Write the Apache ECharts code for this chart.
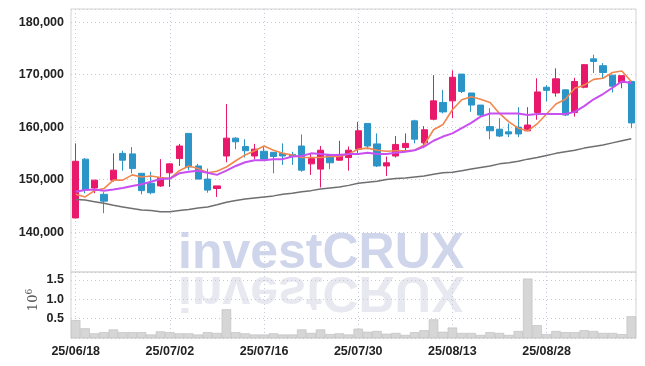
<!DOCTYPE html>
<html>
<head>
<meta charset="utf-8">
<script src="https://cdn.jsdelivr.net/npm/echarts@6/dist/echarts.min.js"></script>
<style>html,body{margin:0;padding:0;background:#fff}#c{width:645px;height:366px}</style>
</head>
<body>
<div id="c"></div>
<script>
const dates = ['25/06/18','25/06/19','25/06/20','25/06/23','25/06/24','25/06/25','25/06/26','25/06/27','25/06/30',
'25/07/01','25/07/02','25/07/03','25/07/04','25/07/07','25/07/08','25/07/09','25/07/10','25/07/11','25/07/14','25/07/15','25/07/16','25/07/17','25/07/18','25/07/21','25/07/22','25/07/23','25/07/24','25/07/25','25/07/28','25/07/29','25/07/30','25/07/31',
'25/08/01','25/08/04','25/08/05','25/08/06','25/08/07','25/08/08','25/08/11','25/08/12','25/08/13','25/08/14','25/08/18','25/08/19','25/08/20','25/08/21','25/08/22','25/08/25','25/08/26','25/08/27','25/08/28','25/08/29',
'25/09/01','25/09/02','25/09/03','25/09/04','25/09/05','25/09/08','25/09/09','25/09/10'];

const opens  = [142700,153900,148400,147200,149900,155000,154900,151200,149300,148800,151300,154000,158800,152600,150100,148300,154500,157900,156300,154500,155400,155200,155000,154800,156400,153000,152000,154800,153700,154200,155800,160700,156800,152600,154500,156100,161200,157000,161500,164700,165000,170100,166500,164200,160100,159600,159100,160000,159300,162800,167600,166500,167100,162800,167600,173000,171700,169900,168500,168700];
const closes = [153500,148000,149900,145900,151800,153700,152100,147900,147500,150400,153000,156400,152400,150100,148000,148800,157900,157200,155500,155800,153900,154400,154500,154400,151800,154000,155600,153200,154800,155600,159300,156400,152600,153200,156700,156900,157700,159500,165000,162900,169500,166800,164200,162300,159300,158300,158700,158700,160400,166700,167000,169200,162300,168700,171900,172500,170400,167800,169800,160800];
const lows   = [142600,147400,147400,143600,149600,151700,151200,147200,147200,148600,148600,152600,151800,150100,147500,146700,153300,155800,154200,153900,153900,151200,152800,152800,151500,150900,148500,152000,153600,151700,155100,155800,152400,150700,154200,155300,156900,156000,161300,162600,161700,166500,162900,162000,157700,158100,158100,158100,159300,161400,164900,165800,162100,162000,167400,170300,169300,166600,167400,159800];
const highs  = [156900,154100,149900,147600,155000,155500,156200,151200,151500,153900,153100,156800,158800,153000,152100,148800,164400,158100,157700,156800,156400,155200,156900,155300,158600,154900,156400,154800,157400,156300,161000,160700,158800,154400,158300,158800,161400,160200,169900,167100,170800,170100,166500,164200,163600,161700,160700,163800,163800,169300,168000,171200,167200,169400,172000,173800,172200,169900,169800,168700];

const ma5  = [147200,146700,147900,148300,149900,149900,150900,150500,150700,150400,150200,151700,152600,152100,151300,151600,152400,153600,154700,155500,156400,155600,155000,154700,154200,154200,154200,154400,154400,154900,155800,156000,155600,155400,155500,155500,155600,156600,159500,160500,163300,165200,165800,165300,164700,162600,161000,159800,159300,160600,162500,164400,165300,167400,168000,169100,169300,170400,170700,168700];
const ma20 = [147700,148000,148100,147900,148100,148400,148800,149100,149600,150100,150200,151200,151500,151700,151300,150900,151700,152600,153300,153700,153700,153900,153900,154400,154500,155000,154900,154700,154700,154900,154900,155100,154900,154900,155100,155300,155600,156300,157400,158200,158800,159800,160800,162000,162600,162600,162600,162600,162300,162500,162500,162500,162500,162900,164000,165300,166300,167500,168700,168400];
const ma60 = [146200,146100,145800,145500,145100,144800,144500,144200,144100,143900,143900,144100,144300,144600,144800,145200,145700,146000,146300,146500,146700,146900,147200,147400,147700,147900,148200,148400,148600,148900,149300,149500,149700,150000,150200,150300,150500,150700,151000,151300,151400,151700,152000,152300,152600,153000,153200,153500,153900,154200,154600,155000,155300,155600,156000,156300,156600,157000,157400,157800];

const volumes = [0.46,0.25,0.12,0.15,0.22,0.15,0.15,0.15,0.09,0.17,0.15,0.12,0.12,0.09,0.15,0.13,0.74,0.15,0.12,0.09,0.09,0.12,0.09,0.09,0.22,0.13,0.22,0.10,0.12,0.09,0.24,0.16,0.18,0.11,0.13,0.08,0.15,0.20,0.48,0.16,0.27,0.13,0.13,0.08,0.15,0.13,0.08,0.18,1.53,0.33,0.10,0.18,0.15,0.15,0.20,0.18,0.13,0.13,0.10,0.56];

const volumeUnit = '{a|10}{b|6}';

const candleData = opens.map((o, i) => [o, closes[i], lows[i], highs[i]]);

const LABEL_FONT = "'Liberation Sans', Arial, sans-serif";
const LABEL_SIZE = 12.5;
const gridLine = { show: true, lineStyle: { color: '#c5c9dc', type: [1, 3], width: 1 } };
const vSplit = { show: true, interval: 9, alignWithLabel: true, lineStyle: { color: '#c5c9dc', type: [1, 3], width: 1 } };

const chart = echarts.init(document.getElementById('c'), null, { renderer: 'canvas' });
chart.setOption({
  animation: false,
  backgroundColor: '#ffffff',
  graphic: [
    { type: 'text', x: 178, y: 254, z: -10, silent: true,
      style: { text: 'investCRUX', fontFamily: "'Liberation Sans', Arial, sans-serif", fontWeight: 'bold', fontSize: 50, fill: '#cfd5ea', verticalAlign: 'middle' } },
    { type: 'text', x: 178, y: 290.5, scaleY: -1, z: -10, silent: true,
      style: { text: 'investCRUX', fontFamily: "'Liberation Sans', Arial, sans-serif", fontWeight: 'bold', fontSize: 50, fill: '#e8e8f0', verticalAlign: 'middle' } },
    { type: 'text', x: 34, y: 300, rotation: Math.PI / 2, silent: true,
      style: { text: volumeUnit, align: 'center', verticalAlign: 'middle', fill: '#555',
        rich: {
          a: { fontFamily: "'DejaVu Serif', serif", fontSize: 13, fill: '#555', lineHeight: 18 },
          b: { fontFamily: "'DejaVu Serif', serif", fontSize: 9, fill: '#555', verticalAlign: 'top', lineHeight: 18 } } } }
  ],
  grid: [
    { left: 71, right: 9, top: 9, height: 263, show: true, borderColor: '#d3d3d3', borderWidth: 1, backgroundColor: 'transparent' },
    { left: 71, right: 9, top: 272, height: 66, show: true, borderColor: '#d3d3d3', borderWidth: 1, backgroundColor: 'transparent' }
  ],
  xAxis: [
    { type: 'category', gridIndex: 0, data: dates, boundaryGap: true,
      axisLine: { show: false }, axisTick: { show: false }, axisLabel: { show: false, interval: 9 },
      splitLine: vSplit },
    { type: 'category', gridIndex: 1, data: dates, boundaryGap: true,
      axisLine: { show: false }, axisTick: { show: false },
      axisLabel: { show: true, interval: 9, margin: 7, color: '#222', fontFamily: LABEL_FONT, fontWeight: 'bold', fontSize: LABEL_SIZE },
      splitLine: vSplit }
  ],
  yAxis: [
    { type: 'value', gridIndex: 0, min: 132400, max: 182500, splitNumber: 5, scale: true,
      axisLine: { show: false }, axisTick: { show: false },
      axisLabel: { margin: 7, color: '#222', fontFamily: LABEL_FONT, fontWeight: 'bold', fontSize: LABEL_SIZE,
        showMinLabel: false, showMaxLabel: false,
        formatter: v => (v % 10000 === 0 ? v.toLocaleString('en-US') : '') },
      splitLine: gridLine },
    { type: 'value', gridIndex: 1, min: 0, max: 1.7, interval: 0.5,
      axisLine: { show: false }, axisTick: { show: false },
      axisLabel: { margin: 7, color: '#222', fontFamily: LABEL_FONT, fontWeight: 'bold', fontSize: LABEL_SIZE,
        showMaxLabel: false,
        formatter: v => (v > 0 && v < 1.6 ? v.toFixed(1) : '') },
      splitLine: gridLine }
  ],
  series: [
    { type: 'candlestick', xAxisIndex: 0, yAxisIndex: 0, data: candleData, barWidth: '70%', z: 3,
      itemStyle: { color: '#e8196a', color0: '#2c95c8', borderColor: '#e8196a', borderColor0: '#2c95c8', borderWidth: 1 } },
    { type: 'line', name: 'MA5', xAxisIndex: 0, yAxisIndex: 0, data: ma5, symbol: 'none', z: 4,
      lineStyle: { color: '#f0874e', width: 1.6 } },
    { type: 'line', name: 'MA20', xAxisIndex: 0, yAxisIndex: 0, data: ma20, symbol: 'none', z: 4,
      lineStyle: { color: '#c84ff0', width: 2 } },
    { type: 'line', name: 'MA60', xAxisIndex: 0, yAxisIndex: 0, data: ma60, symbol: 'none', z: 4,
      lineStyle: { color: '#6f6f6f', width: 1.5 } },
    { type: 'bar', xAxisIndex: 1, yAxisIndex: 1, data: volumes, barCategoryGap: '0%', z: 3,
      itemStyle: { color: '#d6d6d6', borderColor: '#bcbcbc', borderWidth: 0.6 } }
  ]
});
</script>
</body>
</html>
